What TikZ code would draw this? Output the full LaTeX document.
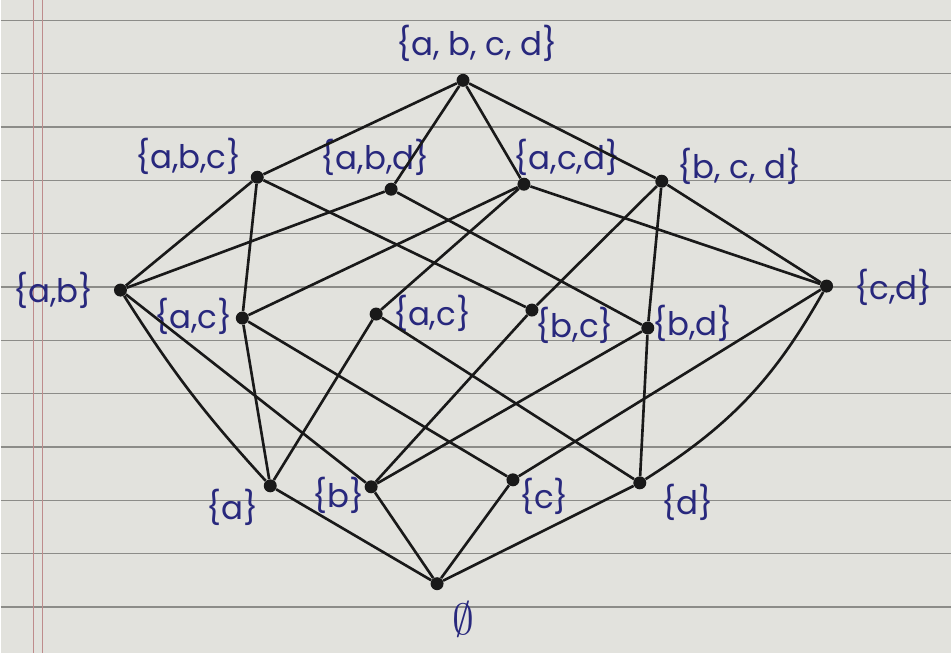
\documentclass[tikz,border=0pt]{standalone}
\usepackage{fontspec}
\setmainfont{Poppins}
\usepackage{tikz}
\definecolor{paper}{RGB}{226,226,221}
\definecolor{ruleline}{RGB}{140,140,136}
\definecolor{marginred}{RGB}{190,140,140}
\definecolor{ink}{RGB}{40,40,125}
\definecolor{pencil}{RGB}{25,25,25}
\tikzset{
  dot/.style={circle,fill=pencil,inner sep=0pt,minimum size=2.6mm},
  lbl/.style={text=ink,inner sep=0pt,font=\fontsize{18.5}{20}\selectfont},
  link/.style={draw=pencil,line width=1.5pt},
  ruled/.style={draw=ruleline,line width=0.7pt},
}

\begin{document}
\begin{tikzpicture}[x=0.02cm,y=-0.02cm]
  % the sheet
  \fill[paper] (0,0) rectangle (952,653);
  \foreach \y in {20,73.4,...,653} \draw[ruled] (0,\y) -- (952,\y);
  \draw[marginred,line width=0.5pt] (33,0) -- (33,653) (42,0) -- (42,653);
  % subsets
  \node[dot] (abcd) at (463,80) {};
  \node[dot] (abc) at (257,177) {};
  \node[dot] (abd) at (391,189) {};
  \node[dot] (acd) at (524,184) {};
  \node[dot] (bcd) at (662,181) {};
  \node[dot] (ab) at (120,290) {};
  \node[dot] (ac) at (242,318) {};
  \node[dot] (ad) at (376,314) {};
  \node[dot] (bc) at (532,310) {};
  \node[dot] (bd) at (648,328) {};
  \node[dot] (cd) at (827,286) {};
  \node[dot] (a) at (270,486) {};
  \node[dot] (b) at (371,487) {};
  \node[dot] (c) at (513,480) {};
  \node[dot] (d) at (640,483) {};
  \node[dot] (e) at (437,584) {};
  % labels
  \node[lbl] (abcd-l) at (477,43) {\{a, b, c, d\}};
  \node[lbl] (abc-l) at (188,156) {\{a,b,c\}};
  \node[lbl] (abd-l) at (375,157) {\{a,b,d\}};
  \node[lbl] (acd-l) at (567,157) {\{a,c,d\}};
  \node[lbl] (bcd-l) at (740,166) {\{b, c, d\}};
  \node[lbl] (ab-l) at (53,290) {\{a,b\}};
  \node[lbl] (ac-l) at (193,316) {\{a,c\}};
  \node[lbl] (ad-l) at (432,313) {\{a,c\}};
  \node[lbl] (bc-l) at (575,325) {\{b,c\}};
  \node[lbl] (bd-l) at (693,323) {\{b,d\}};
  \node[lbl] (cd-l) at (894,287) {\{c,d\}};
  \node[lbl] (a-l) at (232,508) {\{a\}};
  \node[lbl] (b-l) at (338,496) {\{b\}};
  \node[lbl] (c-l) at (544,497) {\{c\}};
  \node[lbl] (d-l) at (688,503) {\{d\}};
  \node[lbl,font=\fontsize{30}{32}\selectfont] (e-l) at (463,620) {$\emptyset$};
  % covering lines
  \foreach \u/\v in {abcd/abc,abcd/abd,abcd/acd,abcd/bcd,
                     abc/ab,abc/ac,abc/bc,abd/ab,abd/bd,
                     acd/ac,acd/ad,acd/cd,bcd/bc,bcd/bd,bcd/cd,
                     ab/b,ac/a,ac/c,ad/a,ad/d,bc/b,bd/b,bd/d,cd/c,
                     a/e,b/e,c/e,d/e}
    \draw[link] (\u) -- (\v);
  \draw[link] (ab) to[bend right=5] (a);
  \draw[link] (cd) to[bend left=14] (d);
\end{tikzpicture}
\end{document}
